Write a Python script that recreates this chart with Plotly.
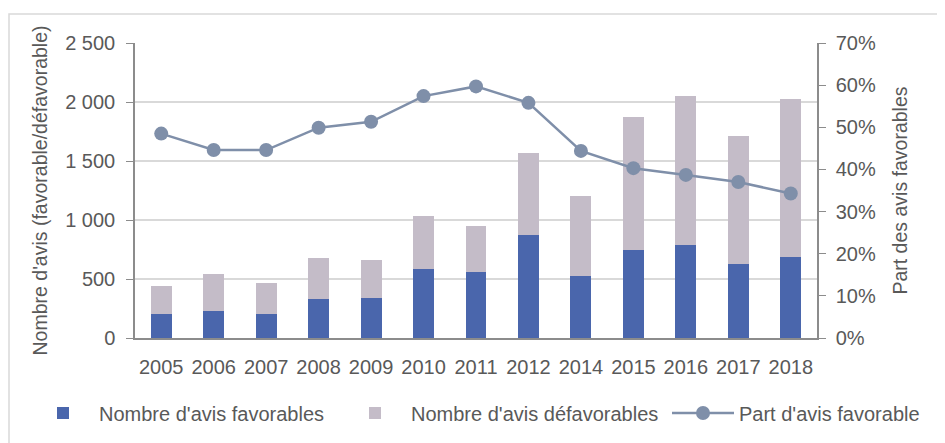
import plotly.graph_objects as go

# ---------- data ----------
years = ["2005", "2006", "2007", "2008", "2009", "2010", "2011",
         "2012", "2014", "2015", "2016", "2017", "2018"]
favorables = [206, 231, 200, 333, 339, 587, 562, 870, 528, 748, 791, 630, 689]
defavorables = [231, 308, 263, 348, 325, 444, 384, 700, 678, 1122, 1263, 1085, 1337]
part_favorable = [0.485, 0.446, 0.446, 0.499, 0.513, 0.574, 0.597,
                  0.558, 0.444, 0.403, 0.387, 0.370, 0.343]

left_ticks = [0, 500, 1000, 1500, 2000, 2500]
left_ticktext = ["0", "500", "1 000", "1 500", "2 000", "2 500"]
right_ticks = [0, 0.1, 0.2, 0.3, 0.4, 0.5, 0.6, 0.7]
right_ticktext = ["0%", "10%", "20%", "30%", "40%", "50%", "60%", "70%"]

# ---------- style ----------
BLUE = "#4a66ac"
LILAC = "#c4bcc8"
LINE = "#7f8fa9"
TXT = "#595959"
AXIS = "#8c8c8c"
GRID = "#d9d9d9"
FONT = "Liberation Sans, Arial, sans-serif"

# page body has an 8px margin, so the figure is a bit smaller than the window
W, H = 937, 435
ML, MR, MT, MB = 127, 128, 35, 105
plot_w = W - ML - MR
plot_h = H - MT - MB


def px_x(page_x: float) -> float:
    # page pixel -> paper fraction
    return (page_x - 8 - ML) / plot_w


def px_y(page_y: float) -> float:
    return (MT + plot_h - (page_y - 8)) / plot_h


def legend_box(page_x: float) -> dict:
    return dict(orientation="h", x=px_x(page_x), y=px_y(413),
                xanchor="left", yanchor="middle",
                font=dict(size=20, color=TXT), itemwidth=62,
                bgcolor="rgba(0,0,0,0)")


fig = go.Figure()
fig.add_trace(go.Bar(x=years, y=favorables, name="Nombre d'avis favorables",
                     marker=dict(color=BLUE, line=dict(width=0)), width=0.4,
                     legend="legend"))
fig.add_trace(go.Bar(x=years, y=defavorables, name="Nombre d'avis défavorables",
                     marker=dict(color=LILAC, line=dict(width=0)), width=0.4,
                     legend="legend2"))
fig.add_trace(go.Scatter(x=years, y=part_favorable, name="Part d'avis favorable",
                         yaxis="y2", mode="lines+markers",
                         line=dict(color=LINE, width=2.5),
                         marker=dict(color=LINE, size=14),
                         legend="legend3"))

fig.update_layout(
    width=W, height=H,
    barmode="stack",
    paper_bgcolor="white", plot_bgcolor="white",
    margin=dict(l=ML, r=MR, t=MT, b=MB, autoexpand=False),
    font=dict(family=FONT, size=20, color=TXT),
    showlegend=True,
    legend=legend_box(27),
    legend2=legend_box(339),
    legend3=legend_box(667),
    xaxis=dict(type="category", range=[-0.5, len(years) - 0.5],
               showline=True, linecolor=AXIS, linewidth=1.5,
               ticks="", showgrid=False, ticklabelstandoff=10,
               tickfont=dict(size=20, color=TXT)),
    yaxis=dict(range=[0, 2500], tickvals=left_ticks, ticktext=left_ticktext,
               showline=True, linecolor=AXIS, linewidth=1.5,
               ticks="outside", ticklen=7, tickcolor=AXIS, ticklabelstandoff=7,
               showgrid=True, gridcolor=GRID, gridwidth=1.5, zeroline=False,
               automargin=False,
               title=dict(text="Nombre d'avis (favorable/défavorable)",
                          font=dict(size=19.5, color=TXT), standoff=12)),
    yaxis2=dict(range=[0, 0.7], tickvals=right_ticks, ticktext=right_ticktext,
                overlaying="y", side="right", showline=True, linecolor=AXIS,
                linewidth=1.5, ticks="outside", ticklen=7, tickcolor=AXIS,
                ticklabelstandoff=6, showgrid=False, zeroline=False,
                automargin=False,
                title=dict(text="Part des avis favorables",
                           font=dict(size=19.5, color=TXT), standoff=18)),
    shapes=[dict(type="rect", xref="paper", yref="paper",
                 x0=(1 - ML) / plot_w, x1=1.4, y0=-0.6,
                 y1=(MT + plot_h - 6) / plot_h,
                 line=dict(color=GRID, width=1.5), layer="below")],
)

fig.write_html("out.html")
